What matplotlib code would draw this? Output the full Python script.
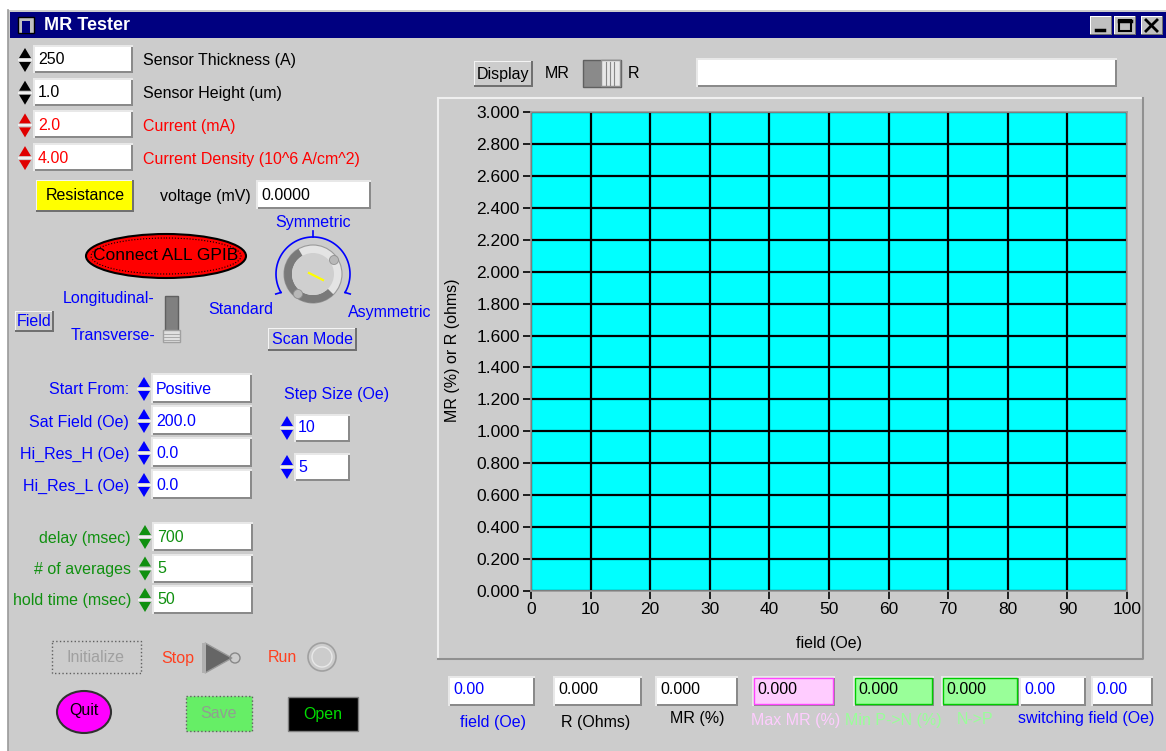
import numpy as np
import matplotlib
matplotlib.use("Agg")
import matplotlib.pyplot as plt
from matplotlib.patches import Rectangle, Ellipse, Circle, Polygon, Wedge

plt.rcParams['font.family'] = ['Liberation Sans', 'DejaVu Sans']

# chart data
field_ticks = [0, 10, 20, 30, 40, 50, 60, 70, 80, 90, 100]
y_ticks = [0.0, 0.2, 0.4, 0.6, 0.8, 1.0, 1.2, 1.4, 1.6, 1.8, 2.0, 2.2, 2.4, 2.6, 2.8, 3.0]
x_label = "field (Oe)"
y_label = "MR (%) or R (ohms)"

# panel values
sensor_labels = ["Sensor Thickness (A)", "Sensor Height (um)", "Current (mA)", "Current Density (10^6 A/cm^2)"]
sensor_values = ["250", "1.0", "2.0", "4.00"]
scan_labels = ["Start From:", "Sat Field (Oe)", "Hi_Res_H (Oe)", "Hi_Res_L (Oe)"]
scan_values = ["Positive", "200.0", "0.0", "0.0"]
step_values = ["10", "5"]
timing_labels = ["delay (msec)", "# of averages", "hold time (msec)"]
timing_values = ["700", "5", "50"]
out_labels = ["field (Oe)", "R (Ohms)", "MR (%)", "Max MR (%)", "Min P->N (%)", "N->P", "switching field (Oe)"]
out_values = ["0.00", "0.000", "0.000", "0.000", "0.000", "0.000", "0.00", "0.00"]

BG = "#cccccc"
BLUE = "#0000ff"
GREEN = "#109010"
RED = "#ff0000"
ORANGE = "#ff4020"
FS = 11.5

W, H = 1166, 751
fig = plt.figure(figsize=(W / 100, H / 100), dpi=100)
fig.patch.set_facecolor("white")
bg = fig.add_axes([0, 0, 1, 1])
bg.set_xlim(0, W)
bg.set_ylim(H, 0)
bg.axis("off")


def rect(x0, y0, x1, y1, fc, ec="none", lw=1, z=1, ls="-"):
    bg.add_patch(Rectangle((x0, y0), x1 - x0, y1 - y0, facecolor=fc, edgecolor=ec, lw=lw, zorder=z, linestyle=ls))


def txt(x, y, s, color="black", ha="left", size=FS, **kw):
    bg.text(x, y, s, color=color, ha=ha, va="center", fontsize=size, zorder=10, **kw)


def box(x0, y0, x1, y1, fc="white", edge="#00000000"):
    # raised bevel frame around an indicator
    rect(x0 - 2, y0 - 2, x1 + 2, y1 + 2, "#e8e8e8", z=2)
    rect(x0, y0, x1 + 2, y1 + 2, "#8a8a8a", z=2)
    rect(x0, y0, x1, y1, fc, ec=edge, lw=1, z=3)


def spinner(x, yc, color="black"):
    bg.add_patch(Polygon([[x, yc - 2], [x + 12, yc - 2], [x + 6, yc - 12]], closed=True, fc=color, ec="none", zorder=4))
    bg.add_patch(Polygon([[x, yc + 2], [x + 12, yc + 2], [x + 6, yc + 12]], closed=True, fc=color, ec="none", zorder=4))
    bg.plot([x, x + 12], [yc, yc], color="#f0f0f0", lw=1.5, zorder=4)


def button(x0, y0, x1, y1, s, fc=BG, tc="black", size=FS):
    rect(x0, y0, x1, y1, "#707070", z=2)
    rect(x0, y0, x1 - 2, y1 - 2, "#f4f4f4", z=2)
    rect(x0 + 1, y0 + 1, x1 - 2, y1 - 2, fc, z=3)
    txt((x0 + x1) / 2, (y0 + y1) / 2, s, color=tc, ha="center", size=size)


# window
rect(8, 10, W, H, BG, z=0)
rect(0, 0, W, 8, "white", z=0)
bg.plot([8, 8], [10, H], color="#9a9a9a", lw=1.2, zorder=1)
rect(10, 12, W, 38, "#000080", z=1)
rect(18, 17, 34, 33, "#c0c0c0", ec="black", lw=1, z=2)
rect(22, 21, 30, 33, "#000080", z=3)
bg.text(44, 25.5, "MR Tester", color="white", fontsize=13, fontweight="bold", va="center", zorder=10)
for x0 in (1090, 1114, 1141):
    rect(x0, 16, x0 + 22, 35, "#707070", z=2)
    rect(x0, 16, x0 + 21, 34, "white", z=2)
    rect(x0 + 1, 17, x0 + 21, 34, "#c0c0c0", z=3)
bg.plot([1096, 1104], [30, 30], color="black", lw=2.5, zorder=5)
rect(1119, 20, 1131, 31, "none", ec="black", lw=1.5, z=5)
bg.plot([1119, 1131], [21, 21], color="black", lw=2.5, zorder=5)
bg.plot([1146, 1157], [20, 31], color="black", lw=2, zorder=5)
bg.plot([1146, 1157], [31, 20], color="black", lw=2, zorder=5)

# sensor inputs
for i, (lab, val) in enumerate(zip(sensor_labels, sensor_values)):
    yc = 60 + i * 32.7
    c = "black" if i < 2 else RED
    spinner(19, yc, color="black" if i < 2 else "#e00000")
    box(35, yc - 13, 131, yc + 11)
    txt(38, yc, val, color=c)
    txt(143, yc + 1, lab, color=c)

button(36, 180, 134, 212, "Resistance", fc="#ffff00")
txt(160, 196, "voltage (mV)")
box(258, 182, 369, 207)
txt(261, 195, "0.0000")

# connect button
bg.add_patch(Ellipse((166, 256), 160, 44, facecolor="#ff0000", edgecolor="black", lw=1.5, zorder=3))
bg.add_patch(Ellipse((166, 256), 150, 36, facecolor="none", edgecolor="black", lw=0.8, ls=":", zorder=4))
txt(166, 256, "Connect ALL GPIB", color="black", ha="center", size=12.5)

# field switch
txt(155, 298, "Longitudinal-", color=BLUE, ha="right")
txt(155, 335, "Transverse-", color=BLUE, ha="right")
rect(165, 296, 178, 332, "#808080", ec="#606060", z=3)
rect(163, 330, 180, 342, "#e0e0e0", ec="#a0a0a0", z=4)
for yy in (334, 337, 340):
    bg.plot([164, 179], [yy, yy], color="#a0a0a0", lw=0.6, zorder=5)
button(15, 311, 54, 332, "Field", tc=BLUE)

# scan mode knob
cx, cy = 313, 274
ang = np.radians(np.linspace(-30, 210, 100))
bg.plot(cx + 37 * np.cos(ang), cy - 37 * np.sin(ang), color=BLUE, lw=1.2, zorder=4)
bg.plot([cx, cx], [cy - 37, cy - 43], color=BLUE, lw=1.2, zorder=4)
for a in (-30, 210):
    r = np.radians(a)
    bg.plot([cx + 37 * np.cos(r), cx + 43 * np.cos(r)], [cy - 37 * np.sin(r), cy - 40 * np.sin(r)], color=BLUE, lw=1.2, zorder=4)
bg.add_patch(Circle((cx, cy), 29, facecolor="#e4e4e4", edgecolor="#9a9a9a", lw=0.8, zorder=5))
bg.add_patch(Wedge((cx, cy), 29, 45, 240, width=8, facecolor="#7a7a7a", edgecolor="none", zorder=6))
bg.add_patch(Circle((cx, cy), 21, facecolor="#cfcfcf", edgecolor="none", zorder=7))
bg.add_patch(Circle((cx + 21, cy - 14), 4.5, facecolor="#b8b8b8", edgecolor="#909090", lw=0.6, zorder=8))
bg.add_patch(Circle((cx - 15, cy + 20), 4.5, facecolor="#b8b8b8", edgecolor="#909090", lw=0.6, zorder=8))
bg.plot([cx - 4, cx + 10], [cy - 1, cy + 6], color="#ffff00", lw=1.6, zorder=9)
txt(313, 222, "Symmetric", color=BLUE, ha="center")
txt(241, 309, "Standard", color=BLUE, ha="center")
txt(390, 312, "Asymmetric", color=BLUE, ha="center")
button(268, 328, 357, 351, "Scan Mode", tc=BLUE)

# scan settings
for i, (lab, val) in enumerate(zip(scan_labels, scan_values)):
    yc = 389 + i * 32
    txt(129, yc + 1, lab, color=BLUE, ha="right")
    spinner(138, yc, color=BLUE)
    box(153, yc - 14, 250, yc + 12)
    txt(156, yc, val, color=BLUE)
txt(337, 394, "Step Size (Oe)", color=BLUE, ha="center")
for i, val in enumerate(step_values):
    yc = 428 + i * 39
    spinner(281, yc, color=BLUE)
    box(296, yc - 12, 348, yc + 12)
    txt(298, yc, val, color=BLUE)

for i, (lab, val) in enumerate(zip(timing_labels, timing_values)):
    yc = 537 + i * 31.5
    txt(131, yc + 1, lab, color=GREEN, ha="right")
    spinner(139, yc, color=GREEN)
    box(154, yc - 13, 251, yc + 12)
    txt(157, yc, val, color=GREEN)

# run controls
rect(52, 641, 141, 673, "none", ec="#606060", lw=1, ls=":", z=3)
txt(96, 658, "Initialize", color="#a0a0a0", ha="center")
txt(161, 658, "Stop", color=ORANGE)
bg.add_patch(Polygon([[205, 643], [205, 673], [232, 658]], closed=True, fc="#666666", ec="#999999", lw=1, zorder=4))
bg.add_patch(Circle((235, 658), 5, facecolor="none", edgecolor="#888888", lw=1, zorder=4))
rect(202, 643, 206, 673, "#b0b0b0", z=4)
txt(268, 658, "Run", color=ORANGE)
bg.add_patch(Circle((322, 657), 14, facecolor=BG, edgecolor="#a0a0a0", lw=1.2, zorder=4))
bg.add_patch(Circle((322, 657), 10, facecolor="none", edgecolor="#e8e8e8", lw=1, zorder=4))
bg.add_patch(Ellipse((84, 712), 54, 42, facecolor="#ff00ff", edgecolor="#303030", lw=1.5, zorder=4))
txt(84, 711, "Quit", color="black", ha="center")
rect(186, 696, 252, 731, "#66ee66", ec="#606060", lw=1, ls=":", z=3)
txt(219, 714, "Save", color="#90a090", ha="center")
rect(288, 697, 358, 731, "black", ec="#808080", lw=1, z=3)
txt(323, 715, "Open", color="#00dd00", ha="center")

# right top controls
button(474, 61, 533, 87, "Display")
txt(545, 73, "MR")
rect(583, 60, 621, 87, "#8a8a8a", ec="#606060", z=3)
rect(601, 60, 620, 86, "#e8e8e8", ec="#909090", z=4)
for xx in (606, 610, 614):
    bg.plot([xx, xx], [62, 85], color="#888888", lw=0.8, zorder=5)
txt(628, 73, "R")
box(698, 60, 1115, 85)

# plot frame panel
rect(438, 98, 1143, 659, "none", ec="#efefef", lw=1.5, z=1)
bg.plot([1143, 1143, 438], [98, 659, 659], color="#909090", lw=1.5, zorder=1)

# output indicators
out_boxes = [(450, 533), (555, 640), (657, 736), (754, 833), (855, 932), (943, 1017), (1021, 1084), (1093, 1151)]
for i, ((x0, x1), val) in enumerate(zip(out_boxes, out_values)):
    fc = "white"
    ec = "#00000000"
    if i == 3:
        fc, ec = "#ffccff", "#ff44ff"
    elif i in (4, 5):
        fc, ec = "#99ff99", "#00cc00"
    box(x0, 678, x1, 704, fc=fc, edge=ec)
    tc = BLUE if i in (0, 6, 7) else "black"
    txt(x0 + 3, 690, val, color=tc)
out_pos = [(493, 722, BLUE), (596, 722, "black"), (697, 719, "black"), (796, 721, "#ffccff"),
           (893, 721, "#99ff99"), (975, 720, "#99ff99"), (1086, 719, BLUE)]
for lab, (x, y, c) in zip(out_labels, out_pos):
    txt(x, y, lab, color=c, ha="center")

# graph
ax = fig.add_axes([531 / W, 1 - 591 / H, (1127 - 531) / W, (591 - 112) / H], zorder=5)
ax.set_facecolor("#00ffff")
ax.set_xlim(field_ticks[0], field_ticks[-1])
ax.set_ylim(y_ticks[0], y_ticks[-1])
ax.set_xticks(field_ticks)
ax.set_yticks(y_ticks)
ax.set_yticklabels([f"{v:.3f}" for v in y_ticks])
ax.grid(True, color="black", lw=1.6)
ax.tick_params(axis="both", direction="out", length=6, width=1.2, color="black", labelsize=12.5, pad=2)
for s in ax.spines.values():
    s.set_color("#999999")
    s.set_linewidth(1.2)
ax.set_xlabel(x_label, fontsize=FS)
ax.set_ylabel(y_label, fontsize=FS)
ax.xaxis.set_label_coords((829 - 531) / (1127 - 531), -(636 - 591) / (591 - 112))
ax.yaxis.set_label_coords(-(531 - 460) / (1127 - 531), (591 - 350) / (591 - 112))

fig.savefig("out.png", dpi=100, facecolor=fig.get_facecolor())
